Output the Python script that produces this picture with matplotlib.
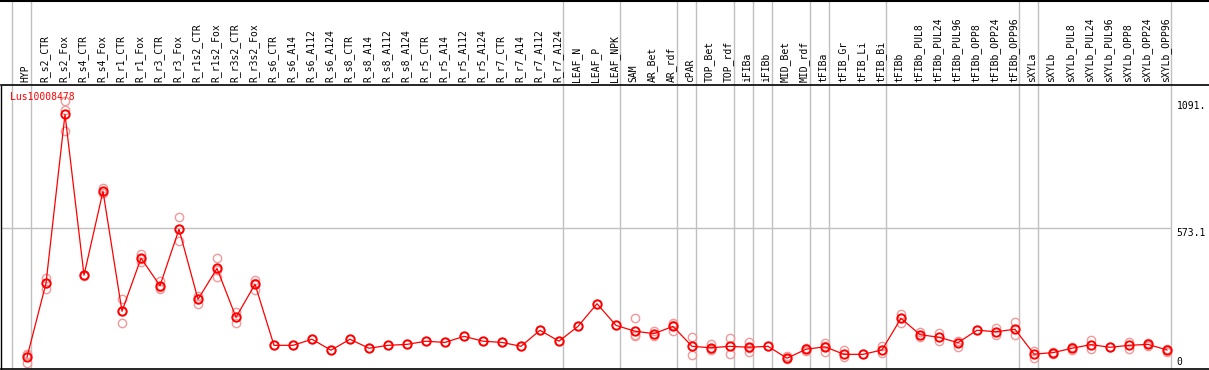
import matplotlib
matplotlib.use("Agg")
import matplotlib.pyplot as plt
import numpy as np

gene = "Lus10008478"

categories = [
    "HYP", "R_s2_CTR", "R_s2_Fox", "R_s4_CTR", "R_s4_Fox", "R_r1_CTR", "R_r1_Fox",
    "R_r3_CTR", "R_r3_Fox", "R_r1s2_CTR", "R_r1s2_Fox", "R_r3s2_CTR", "R_r3s2_Fox",
    "R_s6_CTR", "R_s6_A14", "R_s6_A112", "R_s6_A124", "R_s8_CTR", "R_s8_A14",
    "R_s8_A112", "R_s8_A124", "R_r5_CTR", "R_r5_A14", "R_r5_A112", "R_r5_A124",
    "R_r7_CTR", "R_r7_A14", "R_r7_A112", "R_r7_A124", "LEAF_N", "LEAF_P", "LEAF_NPK",
    "SAM", "AR_Bet", "AR_rdf", "cPAR", "TOP_Bet", "TOP_rdf", "iFIBa", "iFIBb",
    "MID_Bet", "MID_rdf", "tFIBa", "tFIB_Gr", "tFIB_Li", "tFIB_Bi", "tFIBb",
    "tFIBb_PUL8", "tFIBb_PUL24", "tFIBb_PUL96", "tFIBb_OPP8", "tFIBb_OPP24",
    "tFIBb_OPP96", "sXYLa", "sXYLb", "sXYLb_PUL8", "sXYLb_PUL24", "sXYLb_PUL96",
    "sXYLb_OPP8", "sXYLb_OPP24", "sXYLb_OPP96",
]

means = [
    40, 344, 1038, 377, 722, 229, 447, 334, 566, 278, 405, 204, 340,
    89, 89, 114, 69, 114, 77, 89, 93, 106, 101, 126, 106, 101, 85, 151, 106,
    167, 260, 171, 147, 137, 167, 85, 79, 85, 81, 85, 36, 73, 83, 52, 52, 70,
    200, 133, 122, 100, 151, 145, 155, 53, 59, 77, 92, 81, 89, 93, 70,
]

replicates = [
    [50, 53, 18], [367, 320, 345], [1091.7, 968, 1055], [380, 374], [737, 714, 716],
    [278, 180, 229], [463, 433, 445], [355, 320, 327], [615, 518, 566],
    [293, 260, 281], [447, 368, 400], [227, 180, 205], [357, 316, 347],
    [89], [89], [114], [69], [114], [77], [89], [93], [106], [101], [126], [106],
    [101], [85], [151], [106], [167], [260], [171],
    [200, 127, 133], [149, 126, 136], [182, 148, 171], [123, 48], [93, 69, 75],
    [118, 53], [101, 62, 80], [85], [45, 33], [79, 67], [99, 62, 88], [70, 40],
    [52], [85, 59], [218, 180, 202], [143, 124], [138, 108], [108, 81], [151],
    [159, 130], [184, 130], [66, 37], [63, 55], [82, 70], [111, 75], [81],
    [103, 73], [99, 86], [76, 60],
]

# last category index of each group (-1 = line before the first column)
group_ends = [-1, 0, 28, 31, 34, 35, 37, 38, 39, 41, 42, 45, 52, 53, 60]

W, H = 1209, 370
MONO = "DejaVu Sans Mono"
GRID = "#c0c0c0"
RED = "#ff0000"
PALE = "#f09a9a"

fig = plt.figure(figsize=(W / 100, H / 100), dpi=100)

# pixel layout: columns start at x=27 with a 19 px pitch
pitch = 19.0
x0_px = 27.0
left_px, right_px = 1.0, W
xlim = ((left_px - x0_px) / pitch, (right_px - x0_px) / pitch)

header_bottom = 85
plot_top, plot_bottom = 86, 369
zero_px = 367

ax = fig.add_axes([left_px / W, (H - plot_bottom) / H,
                   (right_px - left_px) / W, (plot_bottom - plot_top) / H])
hx = fig.add_axes([left_px / W, (H - header_bottom) / H,
                   (right_px - left_px) / W, (header_bottom - 1) / H], sharex=ax)

vmax = max(max(r) for r in replicates)
ymax = vmax * 1.05
per_px = ymax / (zero_px - 88)
ax.set_xlim(*xlim)
ax.set_ylim(-(plot_bottom - zero_px) * per_px, ymax + 2 * per_px)

x = np.arange(len(categories))
seps = [g + 3.5 / pitch for g in group_ends]

for s in seps:
    ax.axvline(s, color=GRID, lw=1.0, zorder=0)
    hx.axvline(s, color=GRID, lw=1.0, zorder=0)

ax.hlines(ymax / 2, xlim[0], seps[-1], color=GRID, lw=1.0, zorder=0)

rep_x = [i for i, r in enumerate(replicates) for _ in r]
rep_y = [v for r in replicates for v in r]
ax.plot(rep_x, rep_y, "o", ms=6, mfc="none", mec=PALE, mew=1.0, zorder=2)
ax.plot(x, means, "-", color=RED, lw=0.9, zorder=3)
ax.plot(x, means, "o", ms=6, mfc="none", mec=RED, mew=1.4, zorder=4)

# gene name sits about 10 px under the header line
ax.text(-0.92, (zero_px - 97) * per_px, gene, color=RED, fontsize=7, family=MONO,
        va="center", ha="left", zorder=5)

lab_x = seps[-1] + 6 / pitch
ax.text(lab_x, vmax, f"{vmax:.4f}"[:5], fontsize=7, family=MONO, va="top", ha="left")
ax.text(lab_x, ymax / 2, f"{ymax / 2:.4f}"[:5], fontsize=7, family=MONO, va="top", ha="left")
ax.text(lab_x, 0, "0", fontsize=7, family=MONO, va="bottom", ha="left")

for i, name in enumerate(categories):
    hx.text(i - 0.08, 0.03, name, rotation=90, fontsize=7, family=MONO,
            ha="center", va="bottom", transform=hx.get_xaxis_transform())

ax.set_xticks([])
ax.set_yticks([])
hx.set_yticks([])
hx.tick_params(axis="x", length=0, labelbottom=False)
for side in ["top", "right"]:
    ax.spines[side].set_visible(False)
for side in ["left", "right"]:
    hx.spines[side].set_visible(False)
hx.spines["top"].set_linewidth(1.5)
hx.spines["bottom"].set_linewidth(1.2)
ax.spines["bottom"].set_linewidth(1.2)
ax.spines["left"].set_linewidth(1.0)

fig.savefig("out.png", dpi=100)
